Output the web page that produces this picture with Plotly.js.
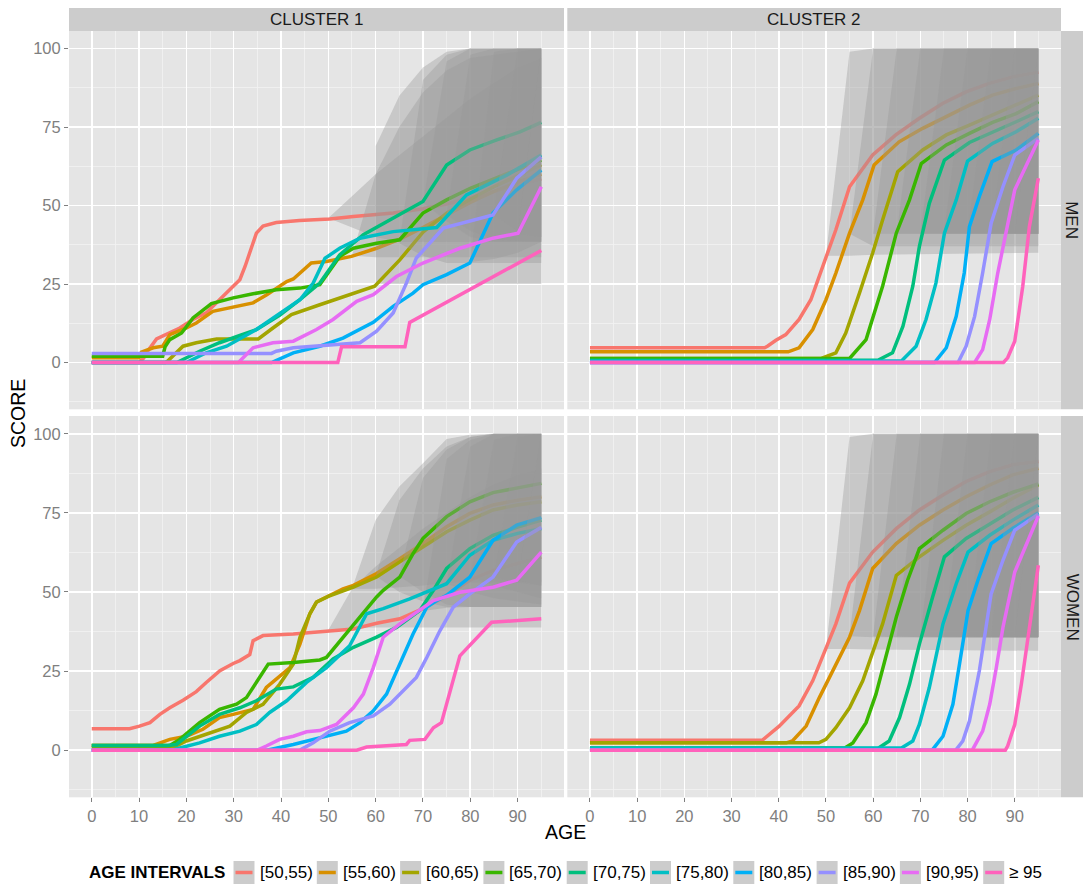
<!DOCTYPE html>
<html>
<head>
<meta charset="utf-8">
<script src="https://cdn.plot.ly/plotly-3.0.1.min.js"></script>
<style>html,body{margin:0;padding:0;background:#fff;}#chart{width:1084px;height:887px;}</style>
</head>
<body>
<div id="chart"></div>
<script>
// ---------------- categories / colours ----------------
const CATEGORIES = ['[50,55)','[55,60)','[60,65)','[65,70)','[70,75)','[75,80)','[80,85)','[85,90)','[90,95)','\u2265 95'];
const COLORS = ['#F8766D','#D89000','#A3A500','#39B600','#00BF7D','#00BFC4','#00B0F6','#9590FF','#E76BF3','#FF62BC'];
const CLUSTERS = ['CLUSTER 1','CLUSTER 2'];
const SEXES = ['MEN','WOMEN'];
const X_TICKS = [0,10,20,30,40,50,60,70,80,90];
const Y_TICKS = [0,25,50,75,100];

// ---------------- CLUSTER 1 / MEN ----------------
const C1_MEN_AGE = [
  [0,10,11,12,13.7,16.5,18.6,21.4,24.2,27,29.2,31.3,32.4,33.8,34.8,36.2,39,43.9,50.3,55.3,60,63.7,70,75,80,85,90,95],
  [0,10,10.5,13,15,16.5,20,22.1,25.6,27.8,31.3,34.1,37,41.2,42.6,46.4,49.6,54.9,60.2,65.1,70,75,80,85,90,95],
  [0,15.5,16,19.3,22.1,26.4,30.6,35.2,38.3,42.2,48.2,54.5,59.8,65.1,70,75,80,85,90,95],
  [0,15,15.5,16.5,19,21.4,25.3,29.9,34.1,39,44,48.2,52.4,55.3,60.2,65.1,70,75,80,85,90,95],
  [0,18,22.8,27,31.3,34.8,39.7,44,48.2,52.4,57.4,63.7,70,75,79.9,85.6,90.5,95],
  [0,20,24.2,28.5,34.8,39,44,46.8,49.3,52.4,56.7,63.7,72.9,79.2,87.7,95],
  [0,38,42.6,48.2,53.1,59.5,63.7,67.9,70,75,79.9,84.8,89.8,95],
  [0,38,39,42.6,46.8,56.7,60.2,63.7,66.5,68.6,74.3,79.2,84.8,89.8,95],
  [0,31,34.1,38.3,42.6,47.5,51,56,59.5,64.4,70,77.8,84.8,90.1,95],
  [0,52,52.8,66.2,67.2,95]
];
const C1_MEN_SCORE = [
  [0,0,1.5,4,7.5,9.4,11,13.7,15.8,20,23.2,26.4,30.6,37,41.2,43.5,44.6,45.2,45.7,46.5,47.2,47.6,49,50.5,52.5,54.5,56.5,58.5],
  [1.5,1.5,3.3,4.7,5.2,8.9,11,12.6,16.3,17,18.1,19,21.6,25.8,26.6,31.7,32.2,33.8,36.4,39.3,43,47,51,54.5,57.5,60],
  [0,0,0.4,5.2,6.3,7.5,7.5,7.5,11,15.3,18.4,21.6,24.3,32.7,41.5,47.6,52,56,59.5,63],
  [2,2,5,7.3,9.4,14.2,18.8,20.6,21.9,23.2,23.7,24.8,33.8,36.4,38,39.1,47.6,51.8,55.5,58.5,61.5,64.5],
  [0,0,3.6,6.3,8.6,10.5,15,20,25.3,34.3,40.7,46,51.3,62.9,67.7,70.9,73.5,76.5],
  [0,0,3.1,5.2,10.5,14.7,20,25.3,33.2,36.4,39.6,41.7,43,53.4,59.7,66.1],
  [0,0,3.1,5.2,7.8,12.8,17.9,22.1,24.8,28,31.7,47.6,55,61.3],
  [2.9,2.9,3.6,4.7,5.2,6.3,10,15.8,25.3,33.3,42.8,44.7,47,58.7,65.5],
  [0,0,4.7,6.3,6.8,10.5,13.7,19.5,21.6,27.4,31.7,36.4,39.6,41.2,56],
  [0,0,5,5,12.8,35.7]
];
const RIB_C1_MEN_AGE = [
  [50,55,60,65,70,75,80,85,90,95],
  [55,60,65,70,75,80,95],
  [60,65,70,75,80,85,95],
  [65,70,75,80,95],
  [70,75,80,85,95],
  [75,80,85,95],
  [80,85,90,95],
  [85,90,95],
  [90,95],
  null
];
const RIB_C1_MEN_UP = [
  [46,53,60,66,72,78,84,89,94,97],
  [34,60,75,86,93,97,100],
  [69,85,94,99,100,100,100],
  [38,90,98,100,100],
  [51,96,100,100,100],
  [47,98,100,100],
  [32,99,100,100],
  [47,100,100],
  [41,100],
  null
];
const RIB_C1_MEN_LO = [
  [46,43,40,38.5,38.5,38.5,38.5,38.5,38.5,38.5],
  [34,33.5,33.5,33.5,33.5,33.5,33.5],
  [25,25,25,25,25,25,25],
  [38,34,31.7,31.7,31.7],
  [51,45,40,38.5,38.5],
  [47,42,39,38.5],
  [32,33,35,38.5],
  [47,42,40],
  [41,40],
  null
];

// ---------------- CLUSTER 2 / MEN ----------------
const C2_MEN_AGE = [
  [0,37,37.6,39.4,41.5,44.3,46.8,48.6,50,52.1,55,59.9,64.8,69.8,74.7,79.7,84.6,89.6,95],
  [0,42,44.3,47.2,50,52.1,55,57.8,60.2,65.5,70.5,75.5,80.4,85.3,90.3,95],
  [0,49,52.1,54.2,57.1,59.9,62,65.2,70.5,75.5,80.4,85.3,90.3,95],
  [0,55,58.5,62,64.9,67.7,70.2,75.5,80.4,85.3,90.3,95],
  [0,61,64.1,66.3,68.4,69.8,71.9,75.1,80.4,85.3,90.3,95],
  [0,66,69.1,71.2,73.3,75.1,77.6,80,85.3,90.3,95],
  [0,73,75.5,77.6,79.3,80.4,82.5,85.2,90.3,95],
  [0,78,79.7,81.5,83.2,85,87.5,90,95],
  [0,81.5,83.2,84.7,86.4,88.2,90,95],
  [0,87.6,88.5,90,91.7,93.1,95]
];
const C2_MEN_SCORE = [
  [4.7,4.7,5.2,7.1,8.9,13.7,20,27.4,33.8,42.3,56,66.1,72.5,77.8,82.5,86.2,88.9,91,92.5],
  [3.4,3.4,4.7,10.5,20,28.5,41.2,51.8,62.9,70.3,74.6,78.3,82,85.2,87.3,88.9],
  [1.3,1.3,3.1,9.4,22.1,34.9,45.4,60.8,67.7,72.5,75.6,78.8,82,85.2],
  [1.3,1.3,7.3,24.3,41.2,51.8,63.4,69.3,73,76.5,79.3,83.1],
  [0.7,0.7,3.1,11.5,24.3,37,50.7,64.5,70.1,73.5,76.7,79.9],
  [0.5,0.5,5.2,13.7,25.3,41.2,51.8,64.2,69.8,73.5,77.8],
  [0,0,4.7,14.7,28.5,43.3,52.9,64,67.7,73],
  [0,0,5.2,14.7,28.5,44.4,56,66.1,71.4],
  [0,0,4.1,13.7,28.5,41.2,55,70.9],
  [0,0,1.5,6.8,24.3,43.3,58.7]
];
const RIB_C2_MEN_AGE = [
  [50,55,60,95],[55,60,65,95],[60,65,95],[65,70,95],[70,75,95],
  [75,80,95],[80,85,95],[85,90,95],[90,95],null
];
const RIB_C2_MEN_UP = [
  [34,99,100,100],[41,100,100,100],[41,100,100],[41,100,100],[41,100,100],
  [41,100,100],[41,100,100],[41,100,100],[41,100],null
];
const RIB_C2_MEN_LO = [
  [34,34,34.3,35],[41,37,37,37],[41,41,41],[41,41,41],[41,41,41],
  [41,41,41],[41,41,41],[41,41,41],[41,41],null
];

// ---------------- CLUSTER 1 / WOMEN ----------------
const C1_WOMEN_AGE = [
  [0,8,10.1,12.3,14.4,16.5,19.3,22.1,24.2,27.1,29.9,31.3,33.4,34.1,36.2,42.6,49.6,55.3,60.2,65.1,70,75,79.9,84.8,90,95],
  [0,13,16.5,20,23.5,27,29.9,34.1,36.9,39.7,41.9,44,46.1,47.5,49.6,53.1,55.3,60.2,65.1,70,75,79.9,84.8,90,95],
  [0,17,20,24.2,29.2,32.7,36.2,39.7,42.6,44,46.1,47.5,50,55.3,60.2,65.1,70,75,79.9,84.8,90,95],
  [0,16.5,18.6,22.8,27,30.6,32.7,37.3,42.6,48.2,49.6,53.1,56.7,60.2,61.6,65.1,67.9,70,75,79.9,84.8,90,95],
  [0,16,17.9,22.8,27,31.3,34.8,39,42.6,46.8,51,55.3,60.2,64.4,69.3,72.2,75,79.9,84.8,90,95],
  [0,17,18.6,22.8,27,31.3,34.8,37.6,41.2,45.4,49.6,54.5,58.1,61.6,67.2,72.2,75,79.9,84.8,90,95],
  [0,37,42.6,46.8,51,53.8,56.7,59.5,62.3,65.1,67.9,70.8,72.9,75,79.9,84.8,89.8,95],
  [0,44,46.8,50.3,54.5,59.5,63,65.8,68.6,70.8,73.6,76.4,79.9,84.8,89.8,95],
  [0,35,36.9,39.7,42.6,45.4,48.2,51.7,55.3,57.4,59.5,61.6,65.1,69.3,72.2,77.8,84.8,89.8,95],
  [0,56,58.1,66.5,67.2,70.4,72.2,73.9,77.8,84.5,95]
];
const C1_WOMEN_SCORE = [
  [6.8,6.8,7.6,8.7,11.3,13.4,15.8,18.5,21.4,25.1,27.4,28.3,30.2,34.6,36.2,36.7,37.6,38.3,40.1,41.5,44.7,48.9,53.7,56.8,59,61],
  [1.5,1.5,3.4,4.4,6.6,10.3,11.3,12.9,19.8,23.5,26.1,33.5,43.1,46.8,48.4,51,52.1,55.8,60.5,65.3,70.6,74.8,77.5,79,80.1],
  [0.7,0.7,2.9,5,7.6,11.9,14.5,20.8,27.2,35.7,43.1,46.8,48.6,51.5,54.7,59.5,64.2,69,72.7,75.9,77.5,78.5],
  [1.5,1.5,3.4,8.7,12.9,14.5,16.6,27.2,27.7,28.5,29.3,35.7,42,48.4,50.5,54.7,62.1,66.9,73.8,78.5,81.4,83,84.3],
  [1.5,1.5,1.8,7.6,11.3,13.4,15.6,19.3,20,23,28.8,32.5,35.7,38.8,44.1,50.5,57.4,63.7,67.9,70.5,72.7],
  [0,0,0.7,2.3,4.4,6,8.1,11.9,15.6,21.4,26.1,33,43.1,44.7,47.8,51,52.6,61.6,66.3,68.5,70],
  [0,0,1.8,3.4,5,6,8.7,12.4,17.7,27.2,36.7,45.2,47.3,48.9,54.7,66.3,71.1,73.5],
  [0,0,2.3,6,8.7,10.8,14.5,18.7,23,29.3,37.8,45.2,49.4,54.7,65.8,70.4],
  [0,0,1.3,3.4,4.4,5.8,6.2,8.1,13.4,17.7,26.1,35.7,39.9,44.1,47.3,49.9,51.5,53.7,62.6],
  [0,0,1,1.8,3.1,3.4,7.1,8.7,29.8,40.4,41.5]
];
const RIB_C1_WOMEN_AGE = [
  [50,55,60,65,70,75,80,85,90,95],
  [55,60,65,70,75,80,85,95],
  [60,65,70,75,80,85,95],
  [65,70,75,80,85,95],
  [70,75,80,85,95],
  [75,80,85,95],
  [80,85,90,95],
  [85,90,95],
  [90,95],
  null
];
const RIB_C1_WOMEN_UP = [
  [38,51,58,64,70,75,80,84,87,89],
  [51,72.7,83.3,90.7,98.3,99.7,100,100],
  [55,79,89,96,99,100,100],
  [55,86,95,99,100,100],
  [44,92,98,100,100],
  [52.6,96,100,100],
  [54.7,98,100,100],
  [54.7,99,100],
  [53.7,100],
  null
];
const RIB_C1_WOMEN_LO = [
  [38,38.6,38.8,38.8,38.8,38.8,38.8,38.8,38.8,38.8],
  [51,51,51.5,52,53,53,53,53],
  [55,50,47,45.2,45.2,45.2,45.2],
  [55,50,46,45.2,45.2,45.2],
  [44,45,45.2,45.2,45.2],
  [52.6,50,48,46],
  [54.7,52,50,48],
  [54.7,53,52],
  [53.7,52],
  null
];

// ---------------- CLUSTER 2 / WOMEN ----------------
const C2_WOMEN_AGE = [
  [0,36.5,40.1,44.3,47.2,50,52.1,55,59.9,64.9,69.8,74.8,79.7,84.7,89.6,95],
  [0,41.6,42.9,45.8,48.6,51.4,55,57.1,59.9,64.9,69.8,74.8,79.7,84.7,89.6,95],
  [0,48.5,50,52.1,55,57.8,59.9,62,64.9,69.8,74.8,79.7,84.7,89.6,95],
  [0,54,55.7,58.5,60.6,62.7,64.9,67.3,69.8,74.8,79.7,84.7,89.6,95],
  [0,61,63.4,65.6,67.7,69.8,72.6,75.1,79.7,84.7,89.6,95],
  [0,66,68.4,69.8,71.9,74.8,77.6,80.1,84.7,89.6,95],
  [0,72.5,74.8,76.9,78.3,80.1,82.2,85,89.6,95],
  [0,77.5,79,80.4,82.5,85,87.5,90,95],
  [0,81,83.2,84.7,86.1,87.5,90,95],
  [0,88,88.5,90,91.4,92.8,95]
];
const C2_WOMEN_SCORE = [
  [3.1,3.1,7.6,14,21.9,32,39.9,52.8,62.6,70,75.9,80.6,84.9,88,90.2,91.2],
  [2.3,2.3,2.9,7.6,16.6,25.1,35.7,44.1,57.4,65.3,71.1,75.9,80.1,83.8,87,89.1],
  [2.3,2.3,3.4,7.1,13.4,21.9,30.9,39.9,55.2,61.1,66.3,71.1,75.3,79.6,83.8],
  [0.7,0.7,2.3,8.7,17.7,29.3,42,53.7,63.7,69.5,74.8,78.5,81.5,84.1],
  [0.5,0.5,2.9,10.3,20.8,33.5,48.4,61.1,66.9,71.6,75.9,79.9],
  [0.7,0.7,2.9,8.1,19.8,39.9,52.6,62.6,67.9,72.7,77.5],
  [0,0,4.4,14.5,27.2,44.1,53.7,65.3,70.1,75],
  [0,0,2.9,9.2,25.1,49.4,60,69.5,74.6],
  [0,0,6,14.5,26.1,38.8,56.3,74],
  [0,0,1.3,8.1,20.8,35.7,58.4]
];
const RIB_C2_WOMEN_AGE = [
  [50,55,60,95],[55,60,65,95],[60,65,95],[65,70,95],[70,75,95],
  [75,80,95],[80,85,95],[85,90,95],[90,95],null
];
const RIB_C2_WOMEN_UP = [
  [32,99,100,100],[36,100,100,100],[36,100,100],[36,100,100],[36,100,100],
  [36,100,100],[36,100,100],[36,100,100],[36,100],null
];
const RIB_C2_WOMEN_LO = [
  [32,32,31.8,31.4],[36,35.7,35.7,35.7],[36,35.7,35.7],[36,35.7,35.7],[36,35.7,35.7],
  [36,35.7,35.7],[36,35.7,35.7],[36,35.7,35.7],[36,35.7],null
];

// ---------------- build ----------------
const W = 1084, H = 887;
const PX = v => v / W;
const PY = v => 1 - v / H;
const COLS = [[69, 564], [567.3, 1061]];
const ROWS = [[31, 409.3], [416, 797.3]];
const FONT = 'Liberation Sans, Arial, Helvetica, sans-serif';
const RIBBON_FILL = 'rgba(152,152,152,0.38)';

const PANELS = [
  {ax: '',  age: C1_MEN_AGE,   score: C1_MEN_SCORE,   rAge: RIB_C1_MEN_AGE,   rUp: RIB_C1_MEN_UP,   rLo: RIB_C1_MEN_LO},
  {ax: '2', age: C2_MEN_AGE,   score: C2_MEN_SCORE,   rAge: RIB_C2_MEN_AGE,   rUp: RIB_C2_MEN_UP,   rLo: RIB_C2_MEN_LO},
  {ax: '3', age: C1_WOMEN_AGE, score: C1_WOMEN_SCORE, rAge: RIB_C1_WOMEN_AGE, rUp: RIB_C1_WOMEN_UP, rLo: RIB_C1_WOMEN_LO},
  {ax: '4', age: C2_WOMEN_AGE, score: C2_WOMEN_SCORE, rAge: RIB_C2_WOMEN_AGE, rUp: RIB_C2_WOMEN_UP, rLo: RIB_C2_WOMEN_LO}
];

const traces = [];
PANELS.forEach(p => {
  CATEGORIES.forEach((cat, k) => {
    if (p.rAge[k]) {
      const xs = p.rAge[k];
      traces.push({
        type: 'scatter', mode: 'none', fill: 'toself', fillcolor: RIBBON_FILL,
        x: xs.concat(xs.slice().reverse()),
        y: p.rUp[k].concat(p.rLo[k].slice().reverse()),
        xaxis: 'x' + p.ax, yaxis: 'y' + p.ax,
        hoverinfo: 'skip', showlegend: false
      });
    }
    traces.push({
      type: 'scatter', mode: 'lines', name: cat,
      x: p.age[k], y: p.score[k],
      line: {color: COLORS[k], width: 3.5},
      xaxis: 'x' + p.ax, yaxis: 'y' + p.ax,
      showlegend: false
    });
  });
});

function xAxis(col, showLabels) {
  return {
    domain: [PX(COLS[col][0]), PX(COLS[col][1])],
    range: [-4.8, 99.8], tickvals: X_TICKS, ticktext: X_TICKS.map(String),
    showticklabels: showLabels, ticks: showLabels ? 'outside' : '',
    ticklen: 4, tickwidth: 1, tickcolor: '#7F7F7F',
    tickfont: {family: FONT, size: 16.5, color: '#7F7F7F'},
    showgrid: true, gridcolor: '#FFFFFF', gridwidth: 1.6,
    minor: {dtick: 5, tick0: 0, showgrid: true, gridcolor: '#F2F2F2', gridwidth: 0.8, ticks: ''},
    zeroline: false, showline: false, fixedrange: true, automargin: false
  };
}
function yAxis(row, showLabels, anchor) {
  return {
    domain: [PY(ROWS[row][1]), PY(ROWS[row][0])],
    range: [-14.9, 105.6], tickvals: Y_TICKS, ticktext: Y_TICKS.map(String),
    showticklabels: showLabels, ticks: showLabels ? 'outside' : '',
    ticklen: 4, tickwidth: 1, tickcolor: '#7F7F7F',
    tickfont: {family: FONT, size: 16.5, color: '#7F7F7F'},
    showgrid: true, gridcolor: '#FFFFFF', gridwidth: 1.6,
    minor: {dtick: 12.5, tick0: 0, showgrid: true, gridcolor: '#F2F2F2', gridwidth: 0.8, ticks: ''},
    zeroline: false, showline: false, fixedrange: true, automargin: false, anchor: anchor
  };
}

const shapes = [];
const annotations = [];

// facet strips (top)
CLUSTERS.forEach((c, i) => {
  shapes.push({type: 'rect', xref: 'paper', yref: 'paper', layer: 'below',
    x0: PX(COLS[i][0]), x1: PX(COLS[i][1]), y0: PY(31), y1: PY(8),
    fillcolor: '#CCCCCC', line: {width: 0}});
  annotations.push({xref: 'paper', yref: 'paper', x: PX((COLS[i][0] + COLS[i][1]) / 2), y: PY(19.5),
    text: c, showarrow: false, xanchor: 'center', yanchor: 'middle',
    font: {family: FONT, size: 17, color: '#1A1A1A'}});
});
// facet strips (right)
SEXES.forEach((s, j) => {
  shapes.push({type: 'rect', xref: 'paper', yref: 'paper', layer: 'below',
    x0: PX(1061), x1: PX(1083), y0: PY(ROWS[j][1]), y1: PY(ROWS[j][0]),
    fillcolor: '#CCCCCC', line: {width: 0}});
  annotations.push({xref: 'paper', yref: 'paper', x: PX(1072), y: PY((ROWS[j][0] + ROWS[j][1]) / 2),
    text: s, showarrow: false, textangle: 90, xanchor: 'center', yanchor: 'middle',
    font: {family: FONT, size: 17, color: '#1A1A1A'}});
});

// axis titles
annotations.push({xref: 'paper', yref: 'paper', x: PX(565), y: PY(832), text: 'AGE', showarrow: false,
  xanchor: 'center', yanchor: 'middle', font: {family: FONT, size: 19.5, color: '#000000'}});
annotations.push({xref: 'paper', yref: 'paper', x: PX(18), y: PY(414), text: 'SCORE', showarrow: false,
  textangle: -90, xanchor: 'center', yanchor: 'middle', font: {family: FONT, size: 19.5, color: '#000000'}});

// legend (drawn manually, ggplot style)
const LEG_Y0 = 861, LEG_Y1 = 884, LEG_KEY_W = 21, LEG_START = 233.5, LEG_STEP = 83.3;
annotations.push({xref: 'paper', yref: 'paper', x: PX(227), y: PY(872.5), text: '<b>AGE INTERVALS</b>',
  showarrow: false, xanchor: 'right', yanchor: 'middle', font: {family: FONT, size: 17, color: '#000000'}});
CATEGORIES.forEach((cat, k) => {
  const kx = LEG_START + k * LEG_STEP;
  shapes.push({type: 'rect', xref: 'paper', yref: 'paper', x0: PX(kx), x1: PX(kx + LEG_KEY_W),
    y0: PY(LEG_Y1), y1: PY(LEG_Y0), fillcolor: '#CCCCCC', line: {width: 0}});
  shapes.push({type: 'line', xref: 'paper', yref: 'paper', x0: PX(kx + 2), x1: PX(kx + LEG_KEY_W - 2),
    y0: PY(872.5), y1: PY(872.5), line: {color: COLORS[k], width: 3.5}});
  annotations.push({xref: 'paper', yref: 'paper', x: PX(kx + LEG_KEY_W + 3), y: PY(872.5), text: cat,
    showarrow: false, xanchor: 'left', yanchor: 'middle', font: {family: FONT, size: 17, color: '#000000'}});
});

const layout = {
  width: W, height: H,
  margin: {l: 0, r: 0, t: 0, b: 0, pad: 0},
  paper_bgcolor: '#FFFFFF', plot_bgcolor: '#E5E5E5',
  showlegend: false,
  font: {family: FONT},
  xaxis:  Object.assign(xAxis(0, false), {anchor: 'y'}),
  yaxis:  yAxis(0, true, 'x'),
  xaxis2: Object.assign(xAxis(1, false), {anchor: 'y2'}),
  yaxis2: yAxis(0, false, 'x2'),
  xaxis3: Object.assign(xAxis(0, true), {anchor: 'y3'}),
  yaxis3: yAxis(1, true, 'x3'),
  xaxis4: Object.assign(xAxis(1, true), {anchor: 'y4'}),
  yaxis4: yAxis(1, false, 'x4'),
  shapes: shapes,
  annotations: annotations
};

Plotly.newPlot('chart', traces, layout, {staticPlot: true, displayModeBar: false});
</script>
</body>
</html>
